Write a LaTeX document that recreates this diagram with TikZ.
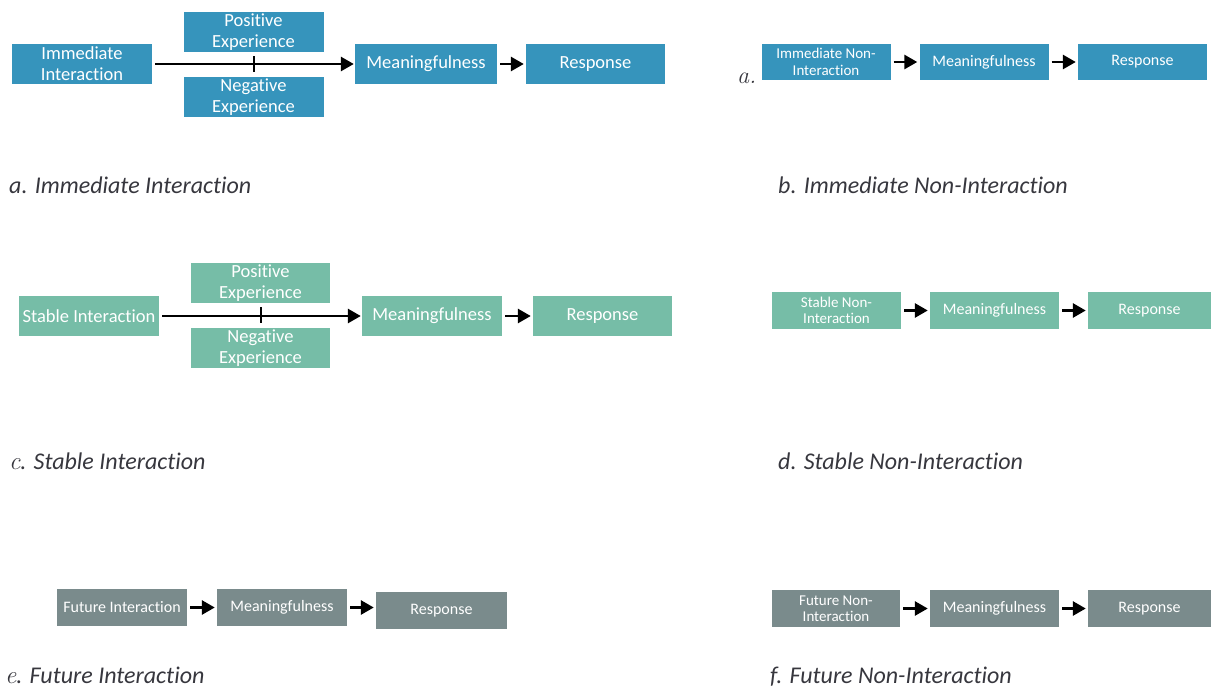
\documentclass[tikz,border=0pt]{standalone}
\usepackage{fontspec}
\setmainfont{Carlito}[Ligatures=NoCommon]
\newfontfamily\lmserif{Latin Modern Roman}
\usetikzlibrary{arrows.meta,calc}
\definecolor{cblue}{RGB}{54,148,188}
\definecolor{cgreen}{RGB}{118,189,167}
\definecolor{cgray}{RGB}{122,139,140}
\definecolor{capcol}{RGB}{55,55,62}
\begin{document}
\begin{tikzpicture}[x=1pt,y=-1pt,
  bigbox/.style={rectangle,inner sep=0pt,minimum width=140pt,minimum height=40pt,text=white,align=center,font=\fontsize{18.5}{21}\selectfont},
  smallbox/.style={rectangle,inner sep=0pt,minimum width=129pt,minimum height=37pt,text=white,align=center,font=\fontsize{16}{17}\selectfont},
  twoline/.style={font=\fontsize{15}{16.5}\selectfont},
  arr/.style={line width=2.8pt,-{Triangle[length=13pt,width=14pt]},shorten <=3pt,shorten >=2pt},
  longarr/.style={line width=2.8pt,-{Triangle[length=13pt,width=14pt]},shorten <=3pt,shorten >=1pt},
  tick/.style={line width=2pt},
  caption/.style={anchor=base west,inner sep=0pt,text=capcol,font=\fontsize{24}{28}\selectfont\itshape}]
\useasboundingbox (0,0) rectangle (1211,688);
% ---------- a ----------
\node[bigbox,fill=cblue] (ai) at (82,64) {Immediate\\Interaction};
\node[bigbox,fill=cblue] (ap) at (253.5,32) {Positive\\Experience};
\node[bigbox,fill=cblue] (an) at (253.5,97) {Negative\\Experience};
\node[bigbox,fill=cblue,minimum width=142pt] (am) at (426,64) {Meaningfulness};
\node[bigbox,fill=cblue,minimum width=139pt] (ar) at (595.5,64) {Response};
\draw[longarr] (ai.east) -- (am.west);
\draw[tick] ($(ap.south)+(0,4)$) -- ($(an.north)+(0,-5)$);
\draw[arr] (am.east) -- (ar.west);
\node[caption] (capa) at (9,193) {a. Immediate Interaction};
% ---------- b ----------
\node[smallbox,fill=cblue,twoline,minimum height=36pt] (bi) at (826,62) {Immediate Non-\\Interaction};
\node[smallbox,fill=cblue,minimum height=36pt] (bm) at (984,62) {Meaningfulness};
\node[smallbox,fill=cblue,minimum height=36pt] (br) at (1142.5,62) {Response};
\draw[arr] (bi.east) -- (bm.west);
\draw[arr] (bm.east) -- (br.west);
\node[anchor=base west,inner sep=0pt,text=capcol,font=\lmserif\fontsize{24}{28}\selectfont\itshape] (bla) at (737,83) {a.};
\node[caption] (capb) at (778,193) {b. Immediate Non-Interaction};
% ---------- c ----------
\node[bigbox,fill=cgreen] (ci) at (89,316) {Stable Interaction};
\node[bigbox,fill=cgreen,minimum width=139pt] (cp) at (260.5,283) {Positive\\Experience};
\node[bigbox,fill=cgreen,minimum width=139pt] (cn) at (260.5,348) {Negative\\Experience};
\node[bigbox,fill=cgreen] (cm) at (432,316) {Meaningfulness};
\node[bigbox,fill=cgreen,minimum width=139pt] (cr) at (602.5,316) {Response};
\draw[longarr] (ci.east) -- (cm.west);
\draw[tick] ($(cp.south)+(0,4)$) -- ($(cn.north)+(0,-5)$);
\draw[arr] (cm.east) -- (cr.west);
\node[caption] (capc) at (9,469) {{\lmserif\fontsize{25}{28}\selectfont c}. Stable Interaction};
% ---------- d ----------
\node[smallbox,fill=cgreen,twoline] (di) at (836.5,310.5) {Stable Non-\\Interaction};
\node[smallbox,fill=cgreen] (dm) at (994.5,310.5) {Meaningfulness};
\node[smallbox,fill=cgreen,minimum width=123pt] (dr) at (1149.5,310.5) {Response};
\draw[arr] (di.east) -- (dm.west);
\draw[arr] (dm.east) -- (dr.west);
\node[caption] (capd) at (778,469) {d. Stable Non-Interaction};
% ---------- e ----------
\node[smallbox,fill=cgray,minimum width=130pt] (ei) at (122,607.5) {Future Interaction};
\node[smallbox,fill=cgray,minimum width=130pt] (em) at (282,607.5) {Meaningfulness};
\node[smallbox,fill=cgray,minimum width=131pt] (er) at (441.5,610.5) {Response};
\draw[arr] (ei.east) -- (em.west);
\draw[arr] (em.east) -- (em.east -| er.west);
\node[caption] (cape) at (5,683) {{\lmserif\fontsize{25}{28}\selectfont e}. Future Interaction};
% ---------- f ----------
\node[smallbox,fill=cgray,twoline,minimum width=128pt] (fi) at (836,608.5) {Future Non-\\Interaction};
\node[smallbox,fill=cgray] (fm) at (994.5,608.5) {Meaningfulness};
\node[smallbox,fill=cgray,minimum width=123pt] (fr) at (1149.5,608.5) {Response};
\draw[arr] (fi.east) -- (fm.west);
\draw[arr] (fm.east) -- (fr.west);
\node[caption] (capf) at (770,683) {f. Future Non-Interaction};
\end{tikzpicture}
\end{document}
